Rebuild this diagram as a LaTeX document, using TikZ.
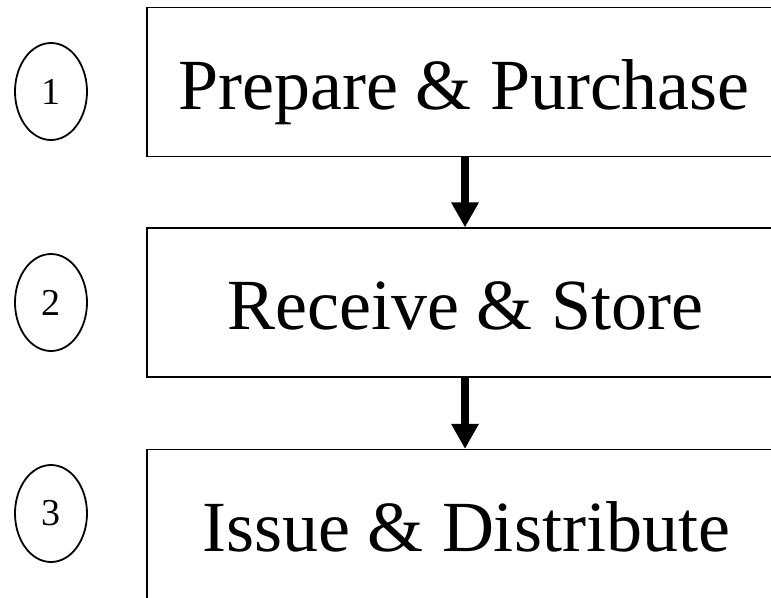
\documentclass[tikz,border=0pt]{standalone}
\usepackage{fontspec}
\setmainfont{Liberation Serif}
\usetikzlibrary{shapes.geometric,arrows.meta}
\begin{document}
\begin{tikzpicture}[x=1pt,y=-1pt,
  stagebox/.style={draw,line width=1.3pt,minimum width=634pt,minimum height=149pt,inner sep=0pt},
  stagetext/.style={anchor=base,inner sep=0pt,font=\fontsize{72}{80}\selectfont},
  numoval/.style={draw,ellipse,line width=1.8pt,minimum width=72pt,minimum height=97pt,inner sep=0pt,font=\fontsize{38}{40}\selectfont},
  flowarrow/.style={line width=8pt,-{Triangle[width=26pt,length=25pt]}}]
\useasboundingbox (0,0) rectangle (771,597);
\clip (0,0) rectangle (771,597);
\node[stagebox] (b1) at (464,82) {};
\node[stagebox] (b2) at (464,302.5) {};
\node[stagebox] (b3) at (464,524) {};
\node[stagetext] (t1) at (464,109) {Prepare \& Purchase};
\node[stagetext] (t2) at (465,329) {Receive \& Store};
\node[stagetext] (t3) at (466,551) {Issue \& Distribute};
\node[numoval] (n1) at (51,91.5) {1};
\node[numoval] (n2) at (51,302.5) {2};
\node[numoval] (n3) at (51,513.5) {3};
\draw[flowarrow] (b1.south -| 465,0) -- (b2.north -| 465,0);
\draw[flowarrow] (b2.south -| 465,0) -- (b3.north -| 465,0);
\end{tikzpicture}
\end{document}
